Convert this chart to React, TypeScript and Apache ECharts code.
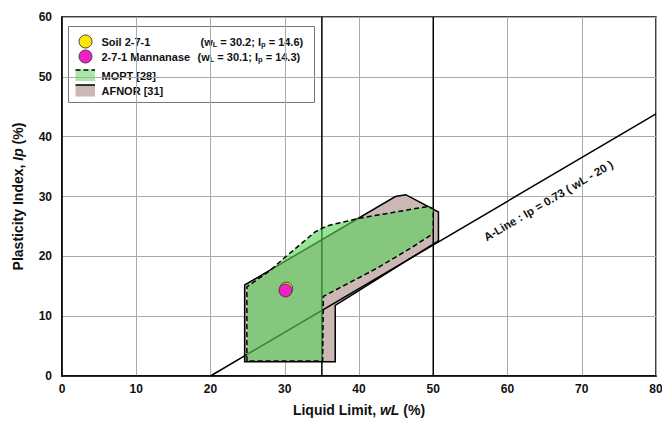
import React, { useEffect, useRef } from "react";
import * as echarts from "echarts";

// ---- data ----
const xTicks = [0, 10, 20, 30, 40, 50, 60, 70, 80];
const yTicks = [0, 10, 20, 30, 40, 50, 60];
const soil271: [number, number][] = [[30.2, 14.6]];
const mannanase: [number, number][] = [[30.1, 14.3]];
const aLine: [number, number][] = [[20, 0], [80, 43.8]];
const vLine35: [number, number][] = [[35, 0], [35, 60]];
const vLine50: [number, number][] = [[50, 0], [50, 60]];
const afnorPolygon: [number, number][] = [
  [24.6, 2.4], [24.6, 15.2], [44.9, 30.0], [46.3, 30.3], [50.7, 27.4],
  [50.7, 22.6], [36.8, 11.8], [36.8, 2.4],
];
const moptPolygon: [number, number][] = [
  [24.9, 2.5], [24.9, 14.9], [28, 17.6], [30, 19.8], [32.3, 22.2], [34.1, 24.1],
  [35.7, 25.1], [40.2, 26.4], [49.1, 28.3], [50, 28.0], [50, 23.8], [47, 21.4],
  [42.4, 18.0], [35.2, 13.3], [35.1, 2.5],
];
const aLineLabelPos: [number, number] = [65.5, 29.3];
const aLineLabel = "A-Line : Ip = 0.73 ( wL - 20 )";

const FONT = "'Liberation Sans', Arial, sans-serif";

function polygonSeries(name: string, pts: [number, number][], style: any, z: number) {
  return {
    type: "custom",
    name,
    z,
    silent: true,
    data: pts,
    encode: { x: 0, y: 1 },
    renderItem: (params: any, api: any) => {
      if (params.dataIndex !== 0) return null;
      const points = pts.map((p) => api.coord(p));
      return { type: "polygon", shape: { points }, style };
    },
  };
}

export default function App() {
  const ref = useRef<HTMLDivElement>(null);
  useEffect(() => {
    const chart = echarts.init(ref.current!, null, { renderer: "svg" });
    const lineStyleBlack = { color: "#000", width: 1.5 };
    const legendText = (text: string, x: number, y: number) => ({
      type: "text", x, y,
      style: { text, fontSize: 11, fontWeight: "bold", fontFamily: FONT, fill: "#111", verticalAlign: "middle" },
    });
    const richSub = {
      a: { fontSize: 11, fontWeight: "bold", fontFamily: FONT, fill: "#111", lineHeight: 14 },
      s: { fontSize: 7.5, fontWeight: "bold", fontFamily: FONT, fill: "#111", lineHeight: 14, padding: [5, 0, 0, 0] },
    };
    const option: any = {
      animation: false,
      backgroundColor: "#fff",
      textStyle: { fontFamily: FONT },
      grid: {
        left: 62, right: 6, top: 17, bottom: 49,
        outerBoundsMode: "none", containLabel: false,
        show: true, borderColor: "#000", borderWidth: 1.5, backgroundColor: "transparent",
      },
      xAxis: {
        type: "value", min: xTicks[0], max: xTicks[xTicks.length - 1], interval: 10,
        axisLine: { show: true, lineStyle: { color: "#000", width: 1.5 } },
        axisTick: { show: false },
        splitLine: { show: true, lineStyle: { color: "#aaa", width: 1 } },
        axisLabel: { color: "#111", fontWeight: "bold", fontSize: 12, margin: 7, fontFamily: FONT },
        name: "{n|Liquid Limit, }{i|wL}{n| (%)}",
        nameLocation: "middle",
        nameGap: 27,
        nameTextStyle: {
          rich: {
            n: { fontSize: 14, fontWeight: "bold", color: "#111", fontFamily: FONT },
            i: { fontSize: 14, fontWeight: "bold", fontStyle: "italic", color: "#111", fontFamily: FONT },
          },
        },
      },
      yAxis: {
        type: "value", min: yTicks[0], max: yTicks[yTicks.length - 1], interval: 10,
        axisLine: { show: true, lineStyle: { color: "#000", width: 1.5 } },
        axisTick: { show: false },
        splitLine: { show: true, lineStyle: { color: "#aaa", width: 1 } },
        axisLabel: { color: "#111", fontWeight: "bold", fontSize: 12, margin: 10, fontFamily: FONT },
        name: "{n|Plasticity Index, }{i|Ip}{n| (%)}",
        nameLocation: "middle",
        nameGap: 37,
        nameTextStyle: {
          rich: {
            n: { fontSize: 14, fontWeight: "bold", color: "#111", fontFamily: FONT },
            i: { fontSize: 14, fontWeight: "bold", fontStyle: "italic", color: "#111", fontFamily: FONT },
          },
        },
      },
      series: [
        polygonSeries("AFNOR [31]", afnorPolygon, { fill: "#cbb8b5", stroke: "#000", lineWidth: 1.5 }, 1),
        { type: "line", data: aLine, z: 2, symbol: "none", silent: true, lineStyle: lineStyleBlack },
        { type: "line", data: vLine35, z: 2, symbol: "none", silent: true, lineStyle: lineStyleBlack },
        { type: "line", data: vLine50, z: 2, symbol: "none", silent: true, lineStyle: lineStyleBlack },
        polygonSeries("MOPT [28]", moptPolygon, {
          fill: "rgba(90,210,90,0.62)", stroke: "#000", lineWidth: 1.5, lineDash: [5, 3],
        }, 3),
        {
          type: "custom", z: 4, silent: true, data: [aLineLabelPos], encode: { x: 0, y: 1 },
          renderItem: (params: any, api: any) => {
            const c = api.coord(aLineLabelPos);
            const p0 = api.coord(aLine[0]);
            const p1 = api.coord(aLine[1]);
            const ang = Math.atan2(p0[1] - p1[1], p1[0] - p0[0]);
            return {
              type: "text", x: c[0], y: c[1], rotation: ang,
              style: {
                text: aLineLabel, fill: "#111", fontSize: 11.5, fontWeight: "bold",
                fontFamily: FONT, align: "center", verticalAlign: "middle",
              },
            };
          },
        },
        {
          type: "scatter", name: "Soil 2-7-1", data: soil271, z: 5, symbolSize: 13,
          itemStyle: { color: "#ffe800", borderColor: "#444", borderWidth: 1, opacity: 1 },
        },
        {
          type: "scatter", name: "2-7-1 Mannanase", data: mannanase, z: 6, symbolSize: 13,
          itemStyle: { color: "#f21fc8", borderColor: "#444", borderWidth: 1, opacity: 1 },
        },
      ],
      graphic: [
        {
          type: "group", left: 68, top: 26, z: 100,
          children: [
            { type: "rect", shape: { x: 0, y: 0, width: 246, height: 76 },
              style: { fill: "#fff", stroke: "#777", lineWidth: 1 } },
            { type: "circle", shape: { cx: 17, cy: 15, r: 6.5 },
              style: { fill: "#ffe800", stroke: "#444", lineWidth: 1 } },
            { type: "circle", shape: { cx: 17, cy: 30, r: 6.5 },
              style: { fill: "#f21fc8", stroke: "#444", lineWidth: 1 } },
            legendText("Soil 2-7-1", 33, 15),
            legendText("2-7-1 Mannanase", 33, 30),
            { type: "text", x: 132, y: 15, style: {
              text: "{a|(w}{s|L}{a| = 30.2; I}{s|p}{a| = 14.6)}", verticalAlign: "middle", rich: richSub } },
            { type: "text", x: 129, y: 30, style: {
              text: "{a|(w}{s|L}{a| = 30.1; I}{s|p}{a| = 14.3)}", verticalAlign: "middle", rich: richSub } },
            { type: "rect", shape: { x: 7, y: 43, width: 19.5, height: 11.5 },
              style: { fill: "#a4eaa4", stroke: "none" } },
            { type: "line", shape: { x1: 7, y1: 43.5, x2: 26.5, y2: 43.5 },
              style: { stroke: "#000", lineWidth: 1.5, lineDash: [5, 3] } },
            legendText("MOPT [28]", 33, 49),
            { type: "rect", shape: { x: 7, y: 58, width: 19.5, height: 12 },
              style: { fill: "#cbb8b5", stroke: "none" } },
            { type: "line", shape: { x1: 7, y1: 58.5, x2: 26.5, y2: 58.5 },
              style: { stroke: "#000", lineWidth: 1.5 } },
            legendText("AFNOR [31]", 33, 64.5),
          ],
        },
      ],
    };
    chart.setOption(option);
    return () => chart.dispose();
  }, []);
  return <div ref={ref} style={{ position: "fixed", left: 0, top: 0, width: 662, height: 425 }} />;
}
